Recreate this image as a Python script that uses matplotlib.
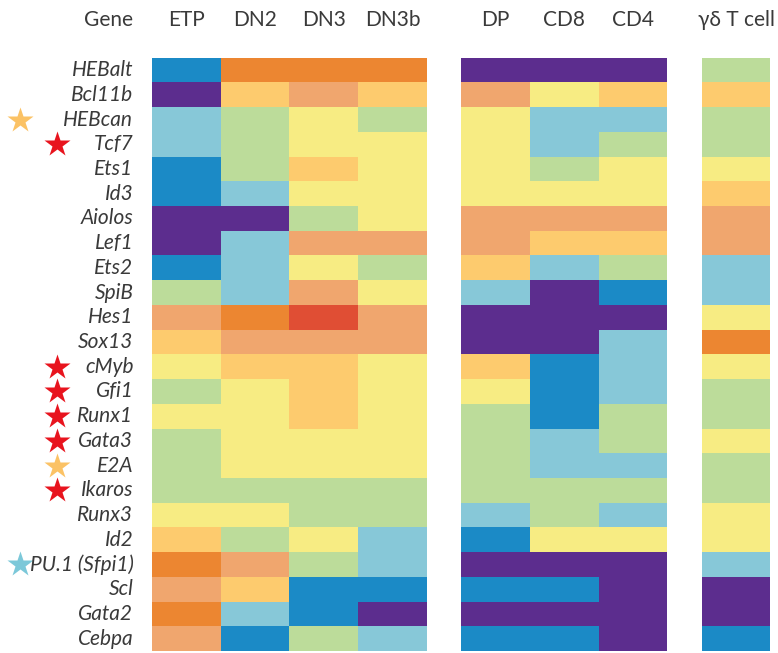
import matplotlib
matplotlib.use("Agg")
import matplotlib.pyplot as plt
import numpy as np
from matplotlib.colors import ListedColormap, BoundaryNorm

plt.rcParams['font.family'] = ['Lato', 'DejaVu Sans']

# expression level codes: 0 = lowest (purple) ... 8 = highest (red)
level_colors = ['#5c2d8e', '#1b8ac6', '#87c8d8', '#bcdc9a', '#f7ec83',
                '#fdcb6e', '#f0a66e', '#ec8631', '#e04e34']

genes = ['HEBalt', 'Bcl11b', 'HEBcan', 'Tcf7', 'Ets1', 'Id3', 'Aiolos', 'Lef1',
         'Ets2', 'SpiB', 'Hes1', 'Sox13', 'cMyb', 'Gfi1', 'Runx1', 'Gata3',
         'E2A', 'Ikaros', 'Runx3', 'Id2', 'PU.1 (Sfpi1)', 'Scl', 'Gata2', 'Cebpa']

early_stages = ['ETP', 'DN2', 'DN3', 'DN3b']
late_stages = ['DP', 'CD8', 'CD4']
gd_stage = ['γδ T cell']

# ETP, DN2, DN3, DN3b
early = [
    [1, 7, 7, 7], [0, 5, 6, 5], [2, 3, 4, 3], [2, 3, 4, 4], [1, 3, 5, 4],
    [1, 2, 4, 4], [0, 0, 3, 4], [0, 2, 6, 6], [1, 2, 4, 3], [3, 2, 6, 4],
    [6, 7, 8, 6], [5, 6, 6, 6], [4, 5, 5, 4], [3, 4, 5, 4], [4, 4, 5, 4],
    [3, 4, 4, 4], [3, 4, 4, 4], [3, 3, 3, 3], [4, 4, 3, 3], [5, 3, 4, 2],
    [7, 6, 3, 2], [6, 5, 1, 1], [7, 2, 1, 0], [6, 1, 3, 2],
]
# DP, CD8, CD4
late = [
    [0, 0, 0], [6, 4, 5], [4, 2, 2], [4, 2, 3], [4, 3, 4],
    [4, 4, 4], [6, 6, 6], [6, 5, 5], [5, 2, 3], [2, 0, 1],
    [0, 0, 0], [0, 0, 2], [5, 1, 2], [4, 1, 2], [3, 1, 3],
    [3, 2, 3], [3, 2, 2], [3, 3, 3], [2, 3, 2], [1, 4, 4],
    [0, 0, 0], [1, 1, 0], [0, 0, 0], [1, 1, 0],
]
# gamma-delta T cell
gd = [3, 5, 3, 3, 4, 5, 6, 6, 2, 2, 4, 7, 4, 3, 3, 4, 3, 3, 4, 4, 2, 0, 0, 1]

# star markers: gene -> (colour, column)
stars = {
    'HEBcan': ('#fbc265', 0), 'Tcf7': ('#e8141e', 1), 'cMyb': ('#e8141e', 1),
    'Gfi1': ('#e8141e', 1), 'Runx1': ('#e8141e', 1), 'Gata3': ('#e8141e', 1),
    'E2A': ('#fbc265', 1), 'Ikaros': ('#e8141e', 1), 'PU.1 (Sfpi1)': ('#7cc8d9', 0),
}

cmap = ListedColormap(level_colors)
norm = BoundaryNorm(np.arange(-0.5, 9.5, 1), cmap.N)

fig = plt.figure(figsize=(7.78, 6.53), dpi=100)
ax = fig.add_axes([152 / 778, 1 - 651 / 653, 618.5 / 778, 593.3 / 653])

n = len(genes)
ys = np.arange(n + 1)
panels = [
    (0.0, np.array(early), early_stages),
    (4.5, np.array(late), late_stages),
    (8.0, np.array(gd).reshape(-1, 1), gd_stage),
]
for x0, data, names in panels:
    xs = x0 + np.arange(data.shape[1] + 1)
    ax.pcolormesh(xs, ys, data, cmap=cmap, norm=norm, edgecolors='none')
    for i, name in enumerate(names):
        ax.text(x0 + i + 0.5, -1.53, name, ha='center', va='center',
                fontsize=15, color='#3a3a3a')

ax.text(-0.27, -1.53, 'Gene', ha='right', va='center', fontsize=15, color='#3a3a3a')

for i, g in enumerate(genes):
    ax.text(-0.27, i + 0.5, g, ha='right', va='center', fontsize=15,
            style='italic', color='#3a3a3a')
    if g in stars:
        col, pos = stars[g]
        sx = -1.92 if pos == 0 else -1.38
        ax.plot(sx, i + 0.5, marker='*', ms=19, color=col, mec='none', clip_on=False)

ax.set_xlim(0, 9)
ax.set_ylim(n, 0)
ax.set_axis_off()

plt.savefig('out.png', dpi=100)
